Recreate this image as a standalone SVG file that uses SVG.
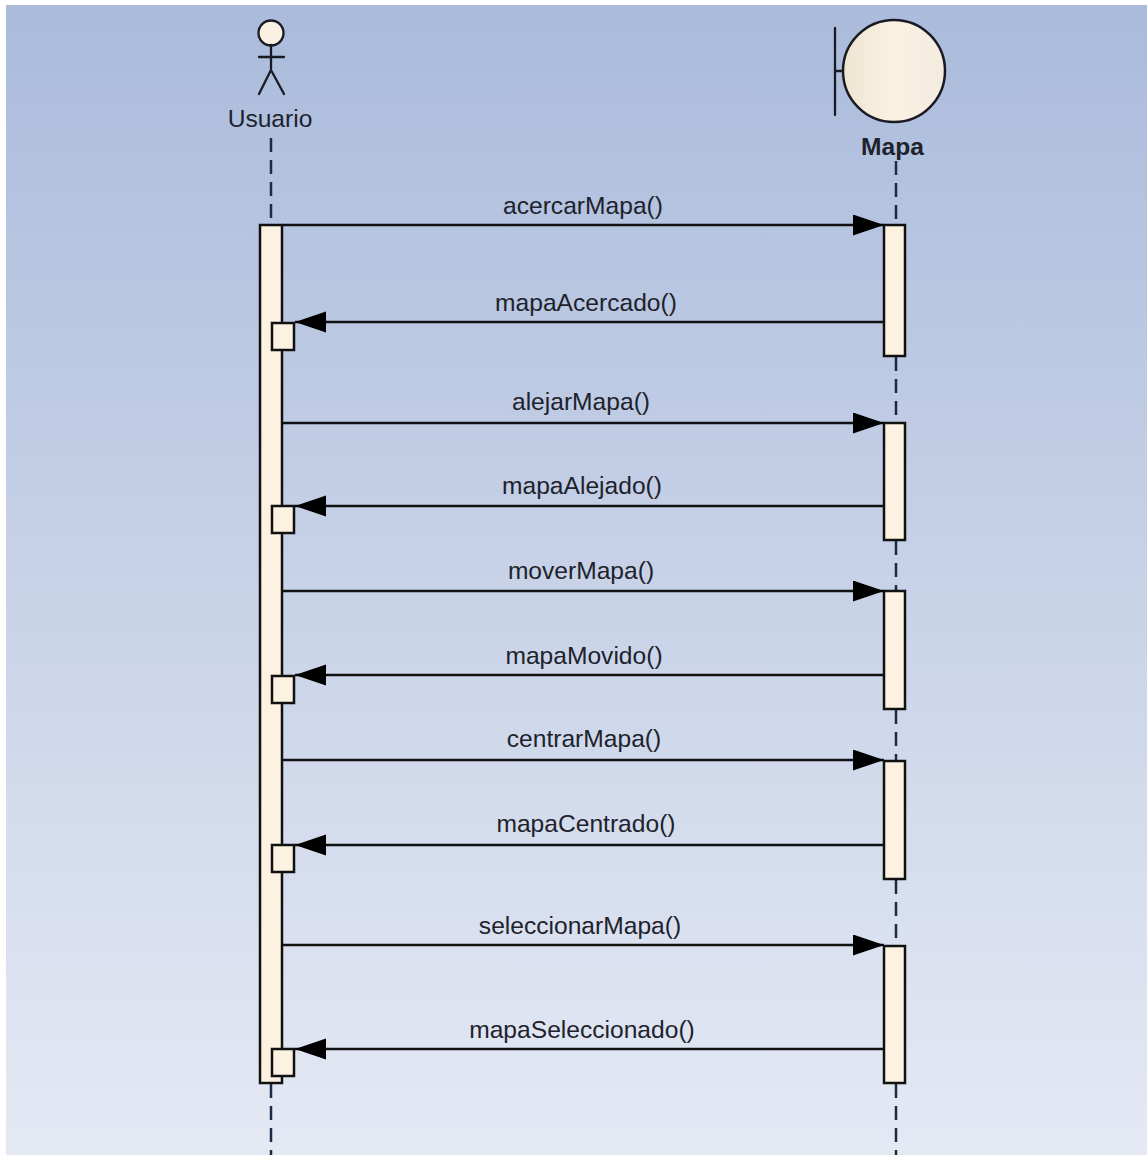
<svg xmlns="http://www.w3.org/2000/svg" width="1147" height="1155" viewBox="0 0 1147 1155">
<style>
.bar{fill:#fdf1e1;stroke:#111;stroke-width:2.500}
.life{stroke:#1c2a44;stroke-width:2.500;stroke-dasharray:14 8;fill:none}
.msg{stroke:#111;stroke-width:2.300;fill:none}
.head{fill:#000}
text{font-family:"Liberation Sans",Arial,sans-serif;font-size:24.600px;fill:#20222c;text-anchor:middle}
.fig{stroke:#1a1a22;stroke-width:2.300;fill:none;stroke-linecap:round}
</style>
<defs>
<linearGradient id="bg" x1="0" y1="0" x2="0" y2="1"><stop offset="0" stop-color="#aabbdb"/><stop offset="1" stop-color="#e5e9f4"/></linearGradient>
<linearGradient id="ball" x1="0" y1="0" x2="1" y2="0"><stop offset="0" stop-color="#efe4d2"/><stop offset=".5" stop-color="#faf1e2"/><stop offset="1" stop-color="#f3ebdf"/></linearGradient>
<marker id="ar" markerUnits="userSpaceOnUse" markerWidth="32" markerHeight="22" refX="31" refY="10.500" orient="auto-start-reverse"><path class="head" d="M0 0L31 10.500L0 21Z"/></marker>
</defs>
<rect width="1147" height="1155" fill="#fff"/>
<rect x="6" y="5" width="1141" height="1150" fill="url(#bg)"/>
<g id="usuario">
<path class="life" d="M271 138V225M271 1084V1155"/>
<circle cx="271" cy="33" r="12.500" fill="#faf1e2" stroke="#1a1a22" stroke-width="2.300"/>
<path class="fig" d="M271 45V70M259 57H284M271 70L259 94M271 70L284 94"/>
<text x="270" y="127">Usuario</text>
<rect class="bar" x="260" y="225" width="22" height="858"/>
</g>
<g id="mapa">
<path class="life" d="M896 161V225M896 357V422M896 541V590M896 710V760M896 880V945M896 1084V1155"/>
<circle cx="894" cy="71" r="51" fill="url(#ball)" stroke="#1a1a22" stroke-width="2.500"/>
<path class="fig" stroke-linecap="butt" d="M835 28V115M835 71H843"/>
<text x="892.500" y="155" style="font-weight:700">Mapa</text>
<rect class="bar" x="884" y="225" width="21" height="131"/>
<rect class="bar" x="884" y="423" width="21" height="117"/>
<rect class="bar" x="884" y="591" width="21" height="118"/>
<rect class="bar" x="884" y="761" width="21" height="118"/>
<rect class="bar" x="884" y="946" width="21" height="137"/>
</g>
<g id="connectors">
<path class="msg" marker-end="url(#ar)" d="M282 225H884"/>
<path class="msg" marker-end="url(#ar)" d="M884 322H295"/>
<path class="msg" marker-end="url(#ar)" d="M282 423H884"/>
<path class="msg" marker-end="url(#ar)" d="M884 506H295"/>
<path class="msg" marker-end="url(#ar)" d="M282 591H884"/>
<path class="msg" marker-end="url(#ar)" d="M884 675H295"/>
<path class="msg" marker-end="url(#ar)" d="M282 760H884"/>
<path class="msg" marker-end="url(#ar)" d="M884 845H295"/>
<path class="msg" marker-end="url(#ar)" d="M282 945H884"/>
<path class="msg" marker-end="url(#ar)" d="M884 1049H295"/>
</g>
<g id="returns">
<rect class="bar" x="272" y="323" width="22" height="27"/>
<rect class="bar" x="272" y="506" width="22" height="27"/>
<rect class="bar" x="272" y="676" width="22" height="27"/>
<rect class="bar" x="272" y="845" width="22" height="27"/>
<rect class="bar" x="272" y="1049" width="22" height="27"/>
</g>
<g id="labels">
<text x="583" y="214">acercarMapa()</text>
<text x="586" y="311">mapaAcercado()</text>
<text x="581" y="410">alejarMapa()</text>
<text x="582" y="494">mapaAlejado()</text>
<text x="581" y="579">moverMapa()</text>
<text x="584" y="664">mapaMovido()</text>
<text x="584" y="747">centrarMapa()</text>
<text x="586" y="832">mapaCentrado()</text>
<text x="580" y="934">seleccionarMapa()</text>
<text x="582" y="1038">mapaSeleccionado()</text>
</g>
</svg>
